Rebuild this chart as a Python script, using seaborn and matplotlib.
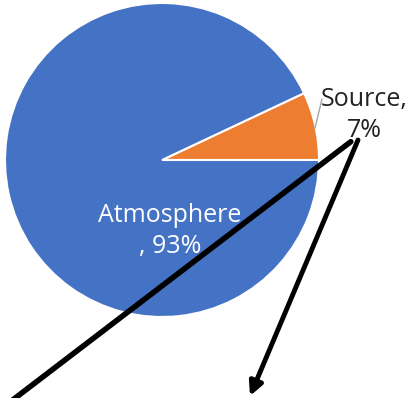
import matplotlib
matplotlib.use("Agg")
import matplotlib.pyplot as plt
import seaborn as sns

sns.set_style("white")
plt.rcParams["font.family"] = ["Open Sans", "DejaVu Sans"]

# Share of emissions by origin
categories = ["Source", "Atmosphere"]
shares = [7, 93]
colors = ["#ED7D31", "#4472C4"]

W, H = 414, 398
fig = plt.figure(figsize=(W / 100, H / 100), dpi=100)
ax = fig.add_axes([0, 0, 1, 1])

cx, cy, r = 162, H - 160, 157
ax.pie(shares, colors=colors, startangle=0, counterclock=True,
       center=(cx, cy), radius=r, frame=True,
       wedgeprops=dict(edgecolor="white", linewidth=1.5))
ax.set_xlim(0, W)
ax.set_ylim(0, H)
ax.set_aspect("equal")
ax.axis("off")

# data labels
ax.text(364, H - 115, f"{categories[0]},\n{shares[0]}%", ha="center", va="center",
        fontsize=18, color="#222222", linespacing=1.35)
ax.text(170, H - 231, f"{categories[1]}\n, {shares[1]}%", ha="center", va="center",
        fontsize=18, color="white", linespacing=1.35)

# leader line to the small slice
ax.plot([315, 322], [H - 128, H - 99], color="#A6A6A6", lw=1)

# callout arrows
ax.annotate("", xy=(10, H - 402), xytext=(353, H - 140),
            arrowprops=dict(arrowstyle="-", color="black", lw=4), annotation_clip=False)
ax.annotate("", xy=(250, H - 396), xytext=(358, H - 140),
            arrowprops=dict(arrowstyle="-|>,head_length=0.8,head_width=0.4",
                            color="black", lw=3.5, shrinkA=0, shrinkB=0))

fig.savefig("out.png", dpi=100)
